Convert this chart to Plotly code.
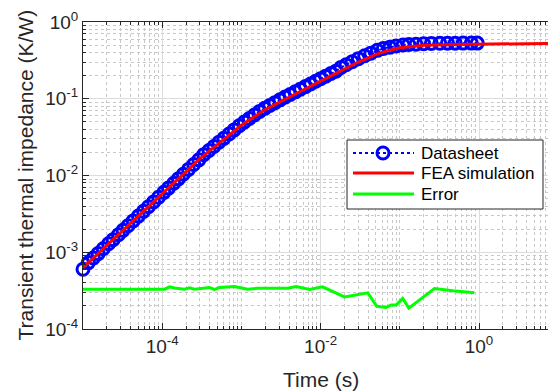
import plotly.graph_objects as go

# ---- data ----
# Datasheet transient thermal impedance curve (s, K/W)
ds_time = [1.0e-5, 1.17e-5, 1.35e-5, 1.55e-5, 1.8e-5, 2.1e-5, 2.4e-5, 2.8e-5, 3.2e-5, 3.7e-5,
           4.3e-5, 5.0e-5, 5.8e-5, 6.7e-5, 7.8e-5, 9.0e-5, 1.05e-4, 1.2e-4, 1.4e-4, 1.6e-4,
           1.85e-4, 2.15e-4, 2.5e-4, 2.9e-4, 3.35e-4, 3.9e-4, 4.5e-4, 5.2e-4, 6.0e-4, 7.0e-4,
           8.1e-4, 9.4e-4, 1.09e-3, 1.26e-3, 1.46e-3, 1.7e-3, 1.97e-3, 2.28e-3, 2.65e-3, 3.07e-3,
           3.56e-3, 4.13e-3, 4.79e-3, 5.55e-3, 6.44e-3, 7.47e-3, 8.66e-3, 1.0e-2, 1.16e-2, 1.35e-2,
           1.56e-2, 1.81e-2, 2.1e-2, 2.5e-2, 3.0e-2, 3.6e-2, 4.3e-2, 5.2e-2, 6.2e-2, 7.5e-2,
           9.0e-2, 0.11, 0.13, 0.16, 0.2, 0.25, 0.32, 0.4, 0.5, 0.63, 0.8, 0.95]
ds_zth = [6.0e-4, 7.33e-4, 8.41e-4, 9.60e-4, 1.11e-3, 1.29e-3, 1.46e-3, 1.69e-3, 1.93e-3, 2.21e-3,
          2.56e-3, 2.96e-3, 3.41e-3, 3.92e-3, 4.53e-3, 5.20e-3, 6.03e-3, 6.85e-3, 7.94e-3, 9.04e-3,
          1.04e-2, 1.20e-2, 1.39e-2, 1.60e-2, 1.87e-2, 2.12e-2, 2.39e-2, 2.71e-2, 3.05e-2, 3.48e-2,
          3.93e-2, 4.45e-2, 4.98e-2, 5.52e-2, 6.14e-2, 6.84e-2, 7.50e-2, 8.15e-2, 8.89e-2, 9.68e-2,
          0.105, 0.1135, 0.123, 0.133, 0.144, 0.156, 0.169, 0.182, 0.197, 0.213,
          0.229, 0.256, 0.277, 0.303, 0.333, 0.363, 0.393, 0.427, 0.453, 0.470,
          0.488, 0.501, 0.508, 0.514, 0.521, 0.526, 0.528, 0.530, 0.530, 0.531, 0.531, 0.531]

# FEA simulated transient thermal impedance (s, K/W)
fea_time = [1e-5, 2e-5, 5e-5, 1e-4, 2e-4, 3e-4, 5e-4, 1e-3, 2e-3, 3e-3, 5e-3, 1e-2,
            2e-2, 3e-2, 5e-2, 7e-2, 0.1, 0.15, 0.2, 0.5, 1.0, 2.0, 5.0, 10.0]
fea_zth = [6.31e-4, 1.23e-3, 2.96e-3, 5.75e-3, 1.12e-2, 1.66e-2, 2.55e-2, 4.52e-2, 7.23e-2,
           9.06e-2, 0.118, 0.170, 0.244, 0.301, 0.378, 0.422, 0.462, 0.485, 0.498, 0.509,
           0.513, 0.518, 0.524, 0.528]

# Error between datasheet and FEA (s, K/W)
err_time = [1.0e-5, 1.07e-4, 1.24e-4, 1.43e-4, 1.91e-4, 2.21e-4, 2.56e-4, 3.95e-4, 4.57e-4,
            5.28e-4, 8.17e-4, 1.2e-3, 1.61e-3, 2.62e-3, 3.85e-3, 4.92e-3, 7.24e-3, 1.06e-2,
            2.0e-2, 3.94e-2, 5.13e-2, 6.73e-2, 7.78e-2, 9.02e-2, 0.109, 0.130, 0.274, 0.467, 0.873]
err_val = [3.30e-4, 3.30e-4, 3.54e-4, 3.43e-4, 3.30e-4, 3.43e-4, 3.30e-4, 3.48e-4, 3.27e-4,
           3.48e-4, 3.58e-4, 3.30e-4, 3.40e-4, 3.40e-4, 3.40e-4, 3.58e-4, 3.28e-4, 3.54e-4,
           2.62e-4, 2.96e-4, 1.98e-4, 1.91e-4, 2.06e-4, 2.06e-4, 2.50e-4, 1.87e-4, 3.37e-4,
           3.14e-4, 2.96e-4]

x_major = [1e-4, 1e-2, 1e0]
x_major_text = ["10<sup>-4</sup>", "10<sup>-2</sup>", "10<sup>0</sup>"]
y_major = [1e-4, 1e-3, 1e-2, 1e-1, 1e0]
y_major_text = ["10<sup>-4</sup>", "10<sup>-3</sup>", "10<sup>-2</sup>", "10<sup>-1</sup>", "10<sup>0</sup>"]

# ---- layout geometry (pixels) ----
W, H = 548, 391
L, T, B = 83, 22, 62
R = 0
PW, PH = W - L - R, H - T - B


def px(x):
    return (x - L) / PW


def py(y):
    return (H - B - y) / PH


x_minor = [k * 10.0 ** e for e in range(-5, 2) for k in range(1, 10)
           if k * 10.0 ** e not in x_major]
y_minor = [k * 10.0 ** e for e in range(-4, 1) for k in range(1, 10) if k != 1]

FONT = "Liberation Sans, Arial, sans-serif"
AX = "#262626"

fig = go.Figure()
fig.add_trace(go.Scatter(
    x=ds_time, y=ds_zth, mode="lines+markers", name="Datasheet", cliponaxis=False,
    line=dict(color="#0000FF", width=2, dash="dot"),
    marker=dict(symbol="circle-open", size=12, color="#0000FF", line=dict(width=3, color="#0000FF")),
))
fig.add_trace(go.Scatter(
    x=fea_time, y=fea_zth, mode="lines", name="FEA simulation",
    line=dict(color="#FF0000", width=3),
))
fig.add_trace(go.Scatter(
    x=err_time, y=err_val, mode="lines", name="Error",
    line=dict(color="#00FF00", width=3),
))

axis_common = dict(
    type="log", showline=True, linecolor=AX, linewidth=1,
    ticks="inside", ticklen=6, tickcolor=AX, tickwidth=1,
    tickmode="array", showgrid=True, gridcolor="#dcdcdc", gridwidth=1,
    tickfont=dict(family=FONT, size=19, color=AX), zeroline=False,
)

fig.update_xaxes(
    **axis_common, range=[-5, -5 + PW / 79.2], mirror="ticks",
    tickvals=x_major, ticktext=x_major_text,
    minor=dict(tickmode="array", tickvals=x_minor, ticks="inside", ticklen=3,
               tickcolor=AX, showgrid=True, gridcolor="#c8c8c8", griddash="dot", gridwidth=1),
)
fig.update_yaxes(
    **axis_common, range=[-4, 0], mirror=False,
    tickvals=y_major, ticktext=y_major_text,
    minor=dict(tickmode="array", tickvals=y_minor, ticks="inside", ticklen=3,
               tickcolor=AX, showgrid=True, gridcolor="#c8c8c8", griddash="dot", gridwidth=1),
)

# legend box drawn with shapes
shapes = [
    dict(type="rect", xref="paper", yref="paper", x0=px(347), x1=px(543), y0=py(209), y1=py(140),
         line=dict(color=AX, width=1), fillcolor="white", layer="above"),
    dict(type="line", xref="paper", yref="paper", x0=px(353), x1=px(414), y0=py(153), y1=py(153),
         line=dict(color="#0000FF", width=2, dash="dot"), layer="above"),
    dict(type="circle", xref="paper", yref="paper", x0=px(377), x1=px(389), y0=py(159), y1=py(147),
         line=dict(color="#0000FF", width=3), fillcolor="rgba(0,0,0,0)", layer="above"),
    dict(type="line", xref="paper", yref="paper", x0=px(353), x1=px(414), y0=py(173), y1=py(173),
         line=dict(color="#FF0000", width=3), layer="above"),
    dict(type="line", xref="paper", yref="paper", x0=px(353), x1=px(414), y0=py(194), y1=py(194),
         line=dict(color="#00FF00", width=3), layer="above"),
]

annotations = []
for label, yy in [("Datasheet", 153), ("FEA simulation", 173), ("Error", 194)]:
    annotations.append(dict(text=label, xref="paper", yref="paper", x=px(419), y=py(yy),
                            xanchor="left", yanchor="middle", showarrow=False,
                            font=dict(family=FONT, size=17, color="black")))

annotations.append(dict(text="Time (s)", xref="paper", yref="paper", x=px(321), y=py(379),
                        xanchor="center", yanchor="middle", showarrow=False,
                        font=dict(family=FONT, size=21, color=AX)))
annotations.append(dict(text="Transient thermal impedance (K/W)", xref="paper", yref="paper",
                        x=px(25), y=py(175.5), xanchor="center", yanchor="middle", textangle=-90,
                        showarrow=False, font=dict(family=FONT, size=21, color=AX)))

fig.update_layout(
    width=W, height=H, margin=dict(l=L, r=R, t=T, b=B, pad=0),
    paper_bgcolor="white", plot_bgcolor="white", showlegend=False,
    shapes=shapes, annotations=annotations,
    font=dict(family=FONT, color=AX),
)

fig.write_html("out.html")
